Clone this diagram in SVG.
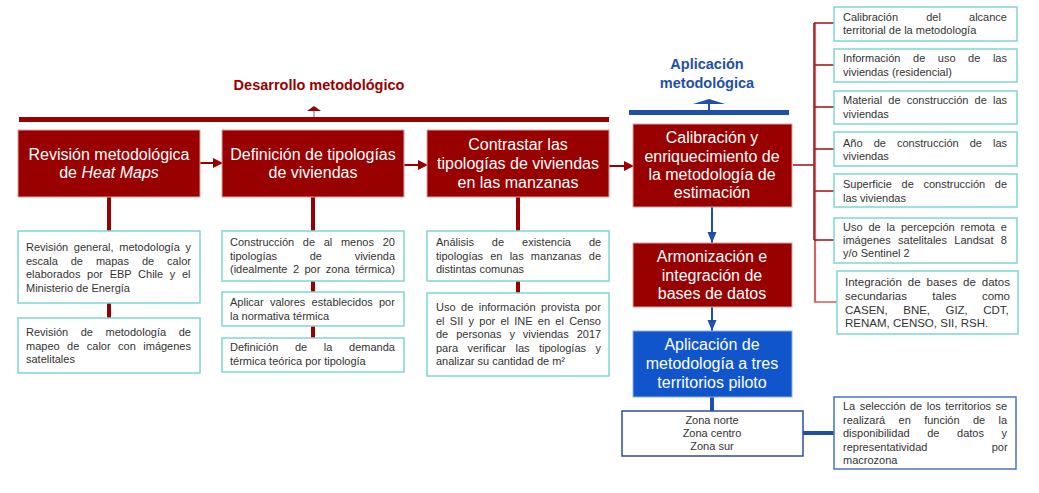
<svg xmlns="http://www.w3.org/2000/svg" width="1039" height="493" viewBox="0 0 1039 493">
<defs>
<style>
.red{fill:#990000;stroke:#D9A3A3;stroke-width:1}
.blue{fill:#1155CC;stroke:#8FB0E6;stroke-width:1}
.det{fill:#fff;stroke:#7FD6D2;stroke-width:1.5}
.mt{font-family:"Liberation Sans",Arial,sans-serif;font-size:16px;fill:#fff;text-anchor:middle}
.dt{font-family:"Liberation Sans",Arial,sans-serif;font-size:11px;fill:#333}
.g{font-size:11.5px}
.ttl{font-family:"Liberation Sans",Arial,sans-serif;font-size:14.5px;font-weight:bold;text-anchor:middle}
.stemR{stroke:#990000;stroke-width:4;fill:none}
.thin{stroke:#A31F24;stroke-width:1.6;fill:none}
</style>
<marker id="ar" markerWidth="10" markerHeight="10" refX="9" refY="5" orient="auto" markerUnits="userSpaceOnUse"><path d="M0,0 L10,5 L0,10 z" fill="#990000"/></marker>
<marker id="ab" markerWidth="12" markerHeight="10" refX="11" refY="4.5" orient="auto" markerUnits="userSpaceOnUse"><path d="M0,0 L11,4.5 L0,9 z" fill="#1F4FA6"/></marker>
</defs>
<rect width="1039" height="493" fill="#fff"/>

<g id="title-desarrollo">
<text class="ttl" x="319" y="90" fill="#990000">Desarrollo metodológico</text>
<rect x="19" y="117" width="590" height="5" fill="#990000"/>
<line x1="314" y1="110" x2="314" y2="117" stroke="#888" stroke-width="1.2"/>
<path d="M307,111 L321,111 L314,106 z" fill="#990000"/>
</g>

<g id="title-aplicacion">
<text class="ttl" x="707" y="69" fill="#1F4FA6">Aplicación</text>
<text class="ttl" x="707" y="88" fill="#1F4FA6">metodológica</text>
<rect x="629" y="110" width="160" height="5" fill="#1F4FA6"/>
<line x1="709" y1="102" x2="709" y2="110" stroke="#1F4FA6" stroke-width="2"/>
<path d="M693,104 L725,104 L709,99 z" fill="#1F4FA6"/>
</g>

<g id="connectors">
<line x1="200" y1="163" x2="222" y2="163" stroke="#990000" stroke-width="2" marker-end="url(#ar)"/>
<line x1="404" y1="165" x2="427" y2="165" stroke="#990000" stroke-width="2" marker-end="url(#ar)"/>
<line x1="609" y1="166" x2="633" y2="166" stroke="#990000" stroke-width="2" marker-end="url(#ar)"/>
<line x1="109" y1="197" x2="109" y2="231" class="stemR"/>
<line x1="109" y1="303" x2="109" y2="318" class="stemR"/>
<line x1="313" y1="197" x2="313" y2="231" class="stemR"/>
<line x1="313" y1="281" x2="313" y2="292" class="stemR"/>
<line x1="313" y1="326" x2="313" y2="338" class="stemR"/>
<line x1="518" y1="197" x2="518" y2="231" class="stemR"/>
<line x1="518" y1="281" x2="518" y2="293" class="stemR"/>
<line x1="712" y1="207" x2="712" y2="243" stroke="#1F4FA6" stroke-width="2" marker-end="url(#ab)"/>
<line x1="712" y1="307" x2="712" y2="331" stroke="#1F4FA6" stroke-width="2" marker-end="url(#ab)"/>
<line x1="712" y1="397" x2="712" y2="411" stroke="#1F4FA6" stroke-width="4"/>
<line x1="803" y1="433" x2="834" y2="433" stroke="#1F4FA6" stroke-width="4"/>
<line x1="793" y1="165" x2="814" y2="165" class="thin"/>
<line x1="815" y1="23" x2="815" y2="302" stroke="#C9676B" stroke-width="2.2"/>
<line x1="814" y1="23" x2="814" y2="240" class="thin"/>
<line x1="814" y1="23" x2="834" y2="23" class="thin"/>
<line x1="814" y1="65" x2="834" y2="65" class="thin"/>
<line x1="814" y1="107" x2="834" y2="107" class="thin"/>
<line x1="814" y1="149" x2="834" y2="149" class="thin"/>
<line x1="814" y1="191" x2="834" y2="191" class="thin"/>
<line x1="814" y1="240" x2="834" y2="240" class="thin"/>
<line x1="814" y1="302" x2="837" y2="302" stroke="#C9676B" stroke-width="1.6"/>
</g>

<g id="n1">
<rect class="red" x="18" y="130" width="182" height="67"/>
<text class="mt" x="109" y="160">Revisión metodológica</text>
<text class="mt" x="109" y="178">de <tspan font-style="italic">Heat Maps</tspan></text>
</g>
<g id="n2">
<rect class="red" x="222" y="130" width="182" height="67"/>
<text class="mt" x="313" y="160">Definición de tipologías</text>
<text class="mt" x="313" y="178">de viviendas</text>
</g>
<g id="n3">
<rect class="red" x="427" y="130" width="182" height="67"/>
<text class="mt" x="518" y="150">Contrastar las</text>
<text class="mt" x="518" y="169">tipologías de viviendas</text>
<text class="mt" x="518" y="188">en las manzanas</text>
</g>
<g id="n4">
<rect class="red" x="633" y="124" width="159" height="83"/>
<text class="mt" x="712" y="143">Calibración y</text>
<text class="mt" x="712" y="162">enriquecimiento de</text>
<text class="mt" x="712" y="180">la metodología de</text>
<text class="mt" x="712" y="198">estimación</text>
</g>
<g id="n5">
<rect class="red" x="633" y="243" width="159" height="64"/>
<text class="mt" x="712" y="262">Armonización e</text>
<text class="mt" x="712" y="281">integración de</text>
<text class="mt" x="712" y="299">bases de datos</text>
</g>
<g id="n6">
<rect class="blue" x="633" y="331" width="159" height="66"/>
<text class="mt" x="712" y="350">Aplicación de</text>
<text class="mt" x="712" y="369">metodología a tres</text>
<text class="mt" x="712" y="388">territorios piloto</text>
</g>
<g id="zonas">
<rect x="622" y="411" width="181" height="45" fill="#fff" stroke="#2E4F9A" stroke-width="1.5"/>
<text class="dt" x="712" y="424" text-anchor="middle" fill="#222">Zona norte</text>
<text class="dt" x="712" y="437" text-anchor="middle" fill="#222">Zona centro</text>
<text class="dt" x="712" y="450" text-anchor="middle" fill="#222">Zona sur</text>
</g>
<g id="nota">
<rect x="834" y="397" width="182" height="72" fill="#fff" stroke="#4A73C2" stroke-width="1.5"/>
<text class="dt" x="843" y="410" style="word-spacing:1.4px">La selección de los territorios se</text>
<text class="dt" x="843" y="424" style="word-spacing:10.3px">realizará en función de la</text>
<text class="dt" x="843" y="437" style="word-spacing:14.5px">disponibilidad de datos y</text>
<text class="dt" x="843" y="451" style="word-spacing:61.3px">representatividad por</text>
<text class="dt" x="843" y="464">macrozona</text>
</g>

<g id="d1a">
<rect class="det" x="18" y="231" width="182" height="72"/>
<text class="dt" x="26" y="251" style="word-spacing:2.6px">Revisión general, metodología y</text>
<text class="dt" x="26" y="265" style="word-spacing:9.9px">escala de mapas de calor</text>
<text class="dt" x="26" y="278" style="word-spacing:3.6px">elaborados por EBP Chile y el</text>
<text class="dt" x="26" y="292">Ministerio de Energía</text>
</g>
<g id="d1b">
<rect class="det" x="18" y="318" width="182" height="55"/>
<text class="dt" x="26" y="336" style="word-spacing:9.5px">Revisión de metodología de</text>
<text class="dt" x="26" y="350" style="word-spacing:4.4px">mapeo de calor con imágenes</text>
<text class="dt" x="26" y="363">satelitales</text>
</g>
<g id="d2a">
<rect class="det" x="222" y="231" width="182" height="50"/>
<text class="dt" x="230" y="246" style="word-spacing:5.6px">Construcción de al menos 20</text>
<text class="dt" x="230" y="260" style="word-spacing:29.6px">tipologías de vivienda</text>
<text class="dt" x="230" y="273" style="word-spacing:2.4px">(idealmente 2 por zona térmica)</text>
</g>
<g id="d2b">
<rect class="det" x="222" y="292" width="182" height="34"/>
<text class="dt" x="230" y="306" style="word-spacing:3.2px">Aplicar valores establecidos por</text>
<text class="dt" x="230" y="320">la normativa térmica</text>
</g>
<g id="d2c">
<rect class="det" x="222" y="338" width="182" height="34"/>
<text class="dt" x="230" y="351" style="word-spacing:13.6px">Definición de la demanda</text>
<text class="dt" x="230" y="365">térmica teórica por tipología</text>
</g>
<g id="d3a">
<rect class="det" x="427" y="231" width="182" height="50"/>
<text class="dt" x="436" y="246" style="word-spacing:14.9px">Análisis de existencia de</text>
<text class="dt" x="436" y="260" style="word-spacing:4.1px">tipologías en las manzanas de</text>
<text class="dt" x="436" y="273">distintas comunas</text>
</g>
<g id="d3b">
<rect class="det" x="427" y="293" width="182" height="83"/>
<text class="dt" x="436" y="311" style="word-spacing:2.4px">Uso de información provista por</text>
<text class="dt" x="436" y="325" style="word-spacing:2.2px">el SII y por el INE en el Censo</text>
<text class="dt" x="436" y="338" style="word-spacing:4.9px">de personas y viviendas 2017</text>
<text class="dt" x="436" y="352" style="word-spacing:6.4px">para verificar las tipologías y</text>
<text class="dt" x="436" y="365">analizar su cantidad de m²</text>
</g>

<g id="r1">
<rect class="det" x="834" y="7" width="183" height="34"/>
<text class="dt" x="843" y="21" style="word-spacing:25.1px">Calibración del alcance</text>
<text class="dt" x="843" y="34">territorial de la metodología</text>
</g>
<g id="r2">
<rect class="det" x="834" y="49" width="183" height="33"/>
<text class="dt" x="843" y="62" style="word-spacing:9.5px">Información de uso de las</text>
<text class="dt" x="843" y="76">viviendas (residencial)</text>
</g>
<g id="r3">
<rect class="det" x="834" y="91" width="183" height="33"/>
<text class="dt" x="843" y="104" style="word-spacing:3.1px">Material de construcción de las</text>
<text class="dt" x="843" y="118">viviendas</text>
</g>
<g id="r4">
<rect class="det" x="834" y="132" width="183" height="34"/>
<text class="dt" x="843" y="147" style="word-spacing:8px">Año de construcción de las</text>
<text class="dt" x="843" y="160">viviendas</text>
</g>
<g id="r5">
<rect class="det" x="834" y="174" width="183" height="33"/>
<text class="dt" x="843" y="188" style="word-spacing:6.6px">Superficie de construcción de</text>
<text class="dt" x="843" y="202">las viviendas</text>
</g>
<g id="r6">
<rect class="det" x="834" y="218" width="183" height="45"/>
<text class="dt" x="843" y="231" style="word-spacing:2.8px">Uso de la percepción remota e</text>
<text class="dt" x="843" y="244" style="word-spacing:4.3px">imágenes satelitales Landsat 8</text>
<text class="dt" x="843" y="257">y/o Sentinel 2</text>
</g>
<g id="r7">
<rect class="det" x="837" y="271" width="181" height="63"/>
<text class="dt g" x="845" y="286" style="word-spacing:2.7px">Integración de bases de datos</text>
<text class="dt g" x="845" y="300" style="word-spacing:22.1px">secundarias tales como</text>
<text class="dt g" x="845" y="314" style="word-spacing:12.2px">CASEN, BNE, GIZ, CDT,</text>
<text class="dt g" x="845" y="327">RENAM, CENSO, SII, RSH.</text>
</g>
</svg>
